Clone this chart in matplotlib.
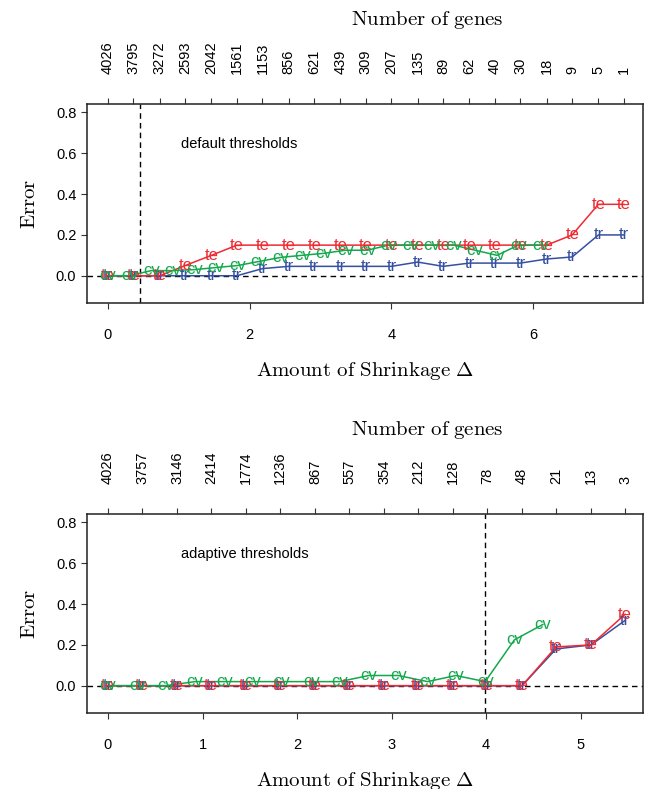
import matplotlib.pyplot as plt

plt.rcParams['mathtext.fontset'] = 'cm'
plt.rcParams['font.family'] = 'Liberation Sans'

# ---- upper panel: default thresholds
delta_top = [0.0, 0.36, 0.73, 1.09, 1.46, 1.82, 2.18, 2.55, 2.91, 3.28, 3.64,
             4.00, 4.37, 4.73, 5.10, 5.46, 5.82, 6.19, 6.55, 6.92, 7.28]
genes_top = ['4026', '3795', '3272', '2593', '2042', '1561', '1153', '856', '621', '439', '309',
             '207', '135', '89', '62', '40', '30', '18', '9', '5', '1']
te_top = [0, 0, 0, 0.05, 0.10, 0.15, 0.15, 0.15, 0.15, 0.15, 0.15,
          0.15, 0.15, 0.15, 0.15, 0.15, 0.15, 0.15, 0.20, 0.35, 0.35]
tr_top = [0, 0, 0, 0, 0, 0, 0.035, 0.046, 0.046, 0.046, 0.046,
          0.046, 0.067, 0.046, 0.062, 0.062, 0.062, 0.082, 0.092, 0.20, 0.20]
delta_cv_top = [0.0, 0.30, 0.61, 0.91, 1.22, 1.52, 1.83, 2.13, 2.44, 2.74, 3.05,
                3.35, 3.66, 3.96, 4.27, 4.57, 4.88, 5.18, 5.49, 5.79, 6.10]
cv_top = [0, 0, 0.025, 0.025, 0.03, 0.04, 0.05, 0.07, 0.09, 0.10, 0.11,
          0.125, 0.125, 0.15, 0.15, 0.15, 0.15, 0.125, 0.10, 0.15, 0.15]
cut_top = 0.45

# ---- lower panel: adaptive thresholds
delta_bot = [0.0, 0.36, 0.73, 1.09, 1.46, 1.82, 2.19, 2.55, 2.92, 3.28, 3.65,
             4.01, 4.38, 4.74, 5.11, 5.47]
genes_bot = ['4026', '3757', '3146', '2414', '1774', '1236', '867', '557', '354', '212', '128',
             '78', '48', '21', '13', '3']
te_bot = [0, 0, 0, 0, 0, 0, 0, 0, 0, 0, 0, 0, 0, 0.19, 0.20, 0.35]
tr_bot = [0, 0, 0, 0, 0, 0, 0, 0, 0, 0, 0, 0, 0, 0.18, 0.20, 0.32]
delta_cv_bot = [0.0, 0.31, 0.61, 0.92, 1.23, 1.53, 1.84, 2.15, 2.45, 2.76, 3.07,
                3.38, 3.68, 3.99, 4.30, 4.60]
cv_bot = [0, 0, 0, 0.02, 0.02, 0.02, 0.02, 0.02, 0.02, 0.05, 0.05,
          0.02, 0.05, 0.02, 0.225, 0.30]
cut_bot = 3.99

red = '#EE2A33'
green = '#12A84B'
blue = '#3550A0'

fig = plt.figure(figsize=(6.45, 7.89), dpi=100)
ax1 = fig.add_axes([0.1344, 0.6156, 0.8626, 0.2522])
ax2 = fig.add_axes([0.1344, 0.0960, 0.8626, 0.2522])


def panel(ax, d, genes, te, tr, dcv, cv, cut, xlim, xticks, note, toplabel_y):
    ax.plot(d, tr, '-', color=blue, lw=1.1, zorder=2)
    ax.plot(d, te, '-', color=red, lw=1.1, zorder=2)
    ax.plot(dcv, cv, '-', color=green, lw=1.1, zorder=2)
    for x, y in zip(d, tr):
        ax.text(x, y, 'tr', color=blue, fontsize=12, ha='center', va='center', zorder=3)
    for x, y in zip(d, te):
        ax.text(x, y, 'te', color=red, fontsize=12, ha='center', va='center', zorder=3)
    for x, y in zip(dcv, cv):
        ax.text(x, y, 'cv', color=green, fontsize=12, ha='center', va='center', zorder=3)
    ax.axhline(0, color='black', ls=(0, (4, 3)), lw=1, zorder=1)
    ax.axvline(cut, color='black', ls=(0, (4, 3)), lw=1, zorder=1)
    ax.set_xlim(*xlim)
    ax.set_ylim(-0.135, 0.84)
    ax.set_xticks(xticks)
    ax.set_xticklabels([str(t) for t in xticks])
    ax.set_yticks([0, 0.2, 0.4, 0.6, 0.8])
    ax.set_yticklabels(['0.0', '0.2', '0.4', '0.6', '0.8'])
    ax.tick_params(labelsize=10.5, length=4, width=0.8, color='#333333')
    ax.tick_params(axis='x', pad=14)
    for s in ax.spines.values():
        s.set_linewidth(1.1)
        s.set_color('#222222')
    ax.set_ylabel(r'$\mathrm{Error}$', fontsize=15, labelpad=12)
    ax.set_xlabel(r'$\mathrm{Amount\ of\ Shrinkage}\ \Delta$', fontsize=15, labelpad=13)
    ax.text(0.17, 0.78, note, transform=ax.transAxes, fontsize=10.5)
    top = ax.twiny()
    top.set_xlim(*xlim)
    top.set_xticks(d)
    top.set_xticklabels(genes, rotation=90)
    top.tick_params(labelsize=10.5, length=4, width=0.8, color='#333333', pad=18)
    for s in top.spines.values():
        s.set_visible(False)
    fig.text(0.663, toplabel_y, r'$\mathrm{Number\ of\ genes}$', fontsize=15,
             ha='center', va='center')


panel(ax1, delta_top, genes_top, te_top, tr_top, delta_cv_top, cv_top, cut_top,
      (-0.30, 7.55), [0, 2, 4, 6], 'default thresholds', 1 - 20 / 789)
panel(ax2, delta_bot, genes_bot, te_bot, tr_bot, delta_cv_bot, cv_bot, cut_bot,
      (-0.225, 5.66), [0, 1, 2, 3, 4, 5], 'adaptive thresholds', 1 - 430 / 789)

fig.savefig('out.png', dpi=100)
